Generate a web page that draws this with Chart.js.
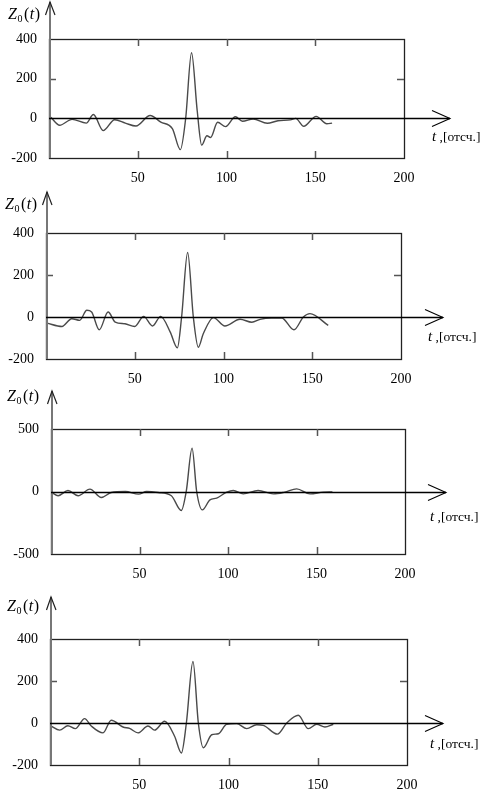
<!DOCTYPE html>
<html lang="ru">
<head>
<meta charset="UTF-8">
<title>Z0(t)</title>
<script src="https://cdn.jsdelivr.net/npm/chart.js@4.4.0/dist/chart.umd.min.js"></script>
<style>
  body { margin: 0; background: #fff; }
  #wrap { position: relative; width: 487px; height: 790px; overflow: hidden; }
  canvas { position: absolute; left: 0; }
</style>
</head>
<body>
<div id="wrap">
  <canvas id="g1" width="487" height="190" style="top:0px"></canvas>
  <canvas id="g2" width="487" height="200" style="top:190px"></canvas>
  <canvas id="g3" width="487" height="200" style="top:388px"></canvas>
  <canvas id="g4" width="487" height="200" style="top:590px"></canvas>
</div>
<script>
// значения (t - отсчёты, z - амплитуда)
const t1 = [1, 6, 13, 21, 25, 30.5, 37, 43, 49, 57, 63, 69.5, 74, 77, 80.3, 83.5, 86, 89, 91, 95, 99.5, 105, 109, 115, 123, 129, 136, 139, 143.5, 150.5, 156.5, 159.5];
const z1 = [5, -35, -5, -24, 19, -62, -7, -24, -39, 14, -19, -52, -158, 0, 331, 38, -135, -88, -97, -20, -42, 8, -15, -3, -25, -12, -8, 0, -40, 10, -27, -24];

const t2 = [0.5, 9, 14.5, 19, 23, 25.7, 30, 35, 39, 44.5, 50, 55, 60, 64.6, 70, 74, 76.4, 79.8, 83, 85.8, 88.6, 94.3, 100.8, 109.3, 116, 120.6, 127, 132.8, 139.7, 145, 148.7, 159];
const z2 = [-29, -45, -8, -16, 32, 24, -61, 24, -24, -32, -45, 3, -43, 3, -72, -147, 0, 307, 0, -144, -80, -3, -43, -11, -25, -11, -5, -5, -61, 0, 16, -40];

const t3 = [0.5, 4, 9.6, 15.3, 22, 28.4, 34, 42, 49.5, 54, 60.5, 68, 73.6, 76.4, 79.7, 82.3, 85.5, 89.8, 93.6, 99.3, 103, 108.6, 117, 125.6, 132, 138.8, 146.3, 153.8, 159];
const z3 = [-8, -34, 8, -34, 19, -48, -8, 0, -21, 0, -8, -34, -152, 0, 347, 0, -147, -67, -53, -5, 8, -19, 8, -19, -5, 21, -19, -5, -3];

const t4 = [0.5, 5.4, 10, 14.2, 19.4, 23.1, 29.7, 34.3, 40.9, 44.6, 49.3, 54.9, 58.6, 64.2, 69.8, 73.6, 76.4, 80.1, 83.1, 85.9, 90.6, 94.3, 99, 104.6, 110.2, 115.8, 119.5, 127.4, 132.6, 139.1, 144.7, 149.4, 154, 158.7];
const z4 = [-14, -34, -13, -27, 21, -14, -47, 13, -19, -26, -47, -14, -34, 8, -63, -143, 0, 293, 0, -118, -56, -51, -6, -3, -27, -8, -11, -53, 0, 37, -27, -6, -19, -6];

// шкалы
const xTicks = [0, 50, 100, 150, 200];
const yTicksA = [-200, 0, 200, 400];
const yTicksB = [-500, 0, 500];

const serif = "'Liberation Serif', 'DejaVu Serif', serif";

// оси со стрелками, рамка, внутренние риски и подписи
const axesPlugin = {
  id: 'mathcadAxes',
  beforeDatasetsDraw(chart, args, opts) {
    const { ctx, chartArea: a, scales: { x, y } } = chart;
    ctx.save();
    ctx.strokeStyle = '#222';
    ctx.lineWidth = 1.3;
    ctx.strokeRect(a.left + 0.5, a.top + 0.5, a.width, a.height);

    // риски внутрь рамки
    ctx.strokeStyle = '#555';
    ctx.lineWidth = 1.5;
    ctx.beginPath();
    x.ticks.forEach(tk => {
      if (tk.value <= x.min || tk.value >= x.max) return;
      const px = Math.round(x.getPixelForValue(tk.value)) + 0.5;
      ctx.moveTo(px, a.top); ctx.lineTo(px, a.top + 7);
      ctx.moveTo(px, a.bottom); ctx.lineTo(px, a.bottom - 7);
    });
    y.ticks.forEach(tk => {
      if (tk.value <= y.min || tk.value >= y.max || tk.value === 0) return;
      const py = Math.round(y.getPixelForValue(tk.value)) + 0.5;
      ctx.moveTo(a.left, py); ctx.lineTo(a.left + 7, py);
      ctx.moveTo(a.right, py); ctx.lineTo(a.right - 7, py);
    });
    ctx.stroke();
    ctx.restore();
  },
  afterDatasetsDraw(chart, args, opts) {
    const { ctx, chartArea: a, scales: { x, y } } = chart;
    const x0 = x.getPixelForValue(0) + 1;
    const y0 = Math.round(y.getPixelForValue(0)) + 0.5;
    ctx.save();

    // вертикальная ось
    ctx.strokeStyle = '#777';
    ctx.lineWidth = 2;
    ctx.beginPath();
    ctx.moveTo(x0, a.bottom);
    ctx.lineTo(x0, opts.arrowTop);
    ctx.stroke();
    ctx.lineWidth = 1.2;
    ctx.strokeStyle = '#222';
    ctx.beginPath();
    ctx.moveTo(x0 - 4.5, opts.arrowTop + 13);
    ctx.lineTo(x0, opts.arrowTop);
    ctx.lineTo(x0 + 5, opts.arrowTop + 13);
    ctx.stroke();

    // горизонтальная ось
    ctx.strokeStyle = '#000';
    ctx.lineWidth = 1.4;
    ctx.beginPath();
    ctx.moveTo(a.left, y0);
    ctx.lineTo(opts.arrowTip, y0);
    ctx.stroke();
    ctx.lineWidth = 1.1;
    ctx.beginPath();
    ctx.moveTo(opts.arrowTip - 18, y0 - 8);
    ctx.lineTo(opts.arrowTip, y0);
    ctx.lineTo(opts.arrowTip - 18, y0 + 8);
    ctx.stroke();

    // подпись Z0(t)
    ctx.fillStyle = '#000';
    ctx.textBaseline = 'middle';
    let px = opts.zx;
    const zy = opts.zy;
    ctx.font = 'italic 16px ' + serif;
    ctx.fillText('Z', px, zy); px += ctx.measureText('Z').width;
    ctx.font = '10px ' + serif;
    ctx.fillText('0', px + 0.5, zy + 4); px += ctx.measureText('0').width + 2;
    ctx.font = '16px ' + serif;
    ctx.fillText('(', px, zy); px += ctx.measureText('(').width + 0.5;
    ctx.font = 'italic 16px ' + serif;
    ctx.fillText('t', px, zy); px += ctx.measureText('t').width + 0.5;
    ctx.font = '16px ' + serif;
    ctx.fillText(')', px, zy);

    // подпись t ,[отсч.]
    px = opts.tx;
    ctx.font = 'italic 15px ' + serif;
    ctx.fillText('t', px, opts.ty); px += ctx.measureText('t').width;
    ctx.font = '13.5px ' + serif;
    ctx.fillText(' ,[отсч.]', px, opts.ty);
    ctx.restore();
  }
};

function makeChart(id, tVals, zVals, yTicks, geo) {
  const yStep = yTicks[1] - yTicks[0];
  return new Chart(document.getElementById(id), {
    type: 'line',
    data: {
      datasets: [{
        data: tVals.map((t, i) => ({ x: t, y: zVals[i] })),
        borderColor: '#4a4a4a',
        borderWidth: 1.4,
        pointRadius: 0,
        cubicInterpolationMode: 'monotone',
        fill: false
      }]
    },
    options: {
      responsive: false,
      animation: false,
      events: [],
      layout: { padding: { left: 0, top: geo.top, right: 487 - geo.right, bottom: 0 } },
      plugins: {
        legend: { display: false },
        tooltip: { enabled: false },
        mathcadAxes: geo
      },
      scales: {
        x: {
          type: 'linear',
          min: xTicks[0],
          max: xTicks[xTicks.length - 1],
          afterFit: s => { s.height = geo.h - geo.bottom; },
          grid: { display: false },
          border: { display: false },
          ticks: {
            stepSize: xTicks[1] - xTicks[0],
            padding: 4,
            maxRotation: 0,
            autoSkip: false,
            color: '#000',
            font: { family: serif, size: 14 },
            callback: v => v === 0 ? '' : v
          }
        },
        y: {
          min: yTicks[0],
          max: yTicks[yTicks.length - 1],
          afterFit: s => { s.width = geo.left; },
          grid: { display: false },
          border: { display: false },
          ticks: {
            stepSize: yStep,
            padding: 4,
            color: '#000',
            font: { family: serif, size: 14 }
          }
        }
      }
    },
    plugins: [axesPlugin]
  });
}

makeChart('g1', t1, z1, yTicksA,
  { h: 190, left: 49, right: 404, top: 39, bottom: 158, arrowTop: 2, arrowTip: 450, zx: 8, zy: 15, tx: 432, ty: 137 });
makeChart('g2', t2, z2, yTicksA,
  { h: 200, left: 46, right: 401, top: 43, bottom: 169, arrowTop: 2, arrowTip: 443, zx: 5, zy: 15, tx: 428, ty: 147 });
makeChart('g3', t3, z3, yTicksB,
  { h: 200, left: 51, right: 405, top: 41, bottom: 166, arrowTop: 3, arrowTip: 446, zx: 7, zy: 9, tx: 430, ty: 129 });
makeChart('g4', t4, z4, yTicksA,
  { h: 200, left: 50, right: 407, top: 49, bottom: 175, arrowTop: 7, arrowTip: 443, zx: 7, zy: 17, tx: 430, ty: 154 });
</script>
</body>
</html>
